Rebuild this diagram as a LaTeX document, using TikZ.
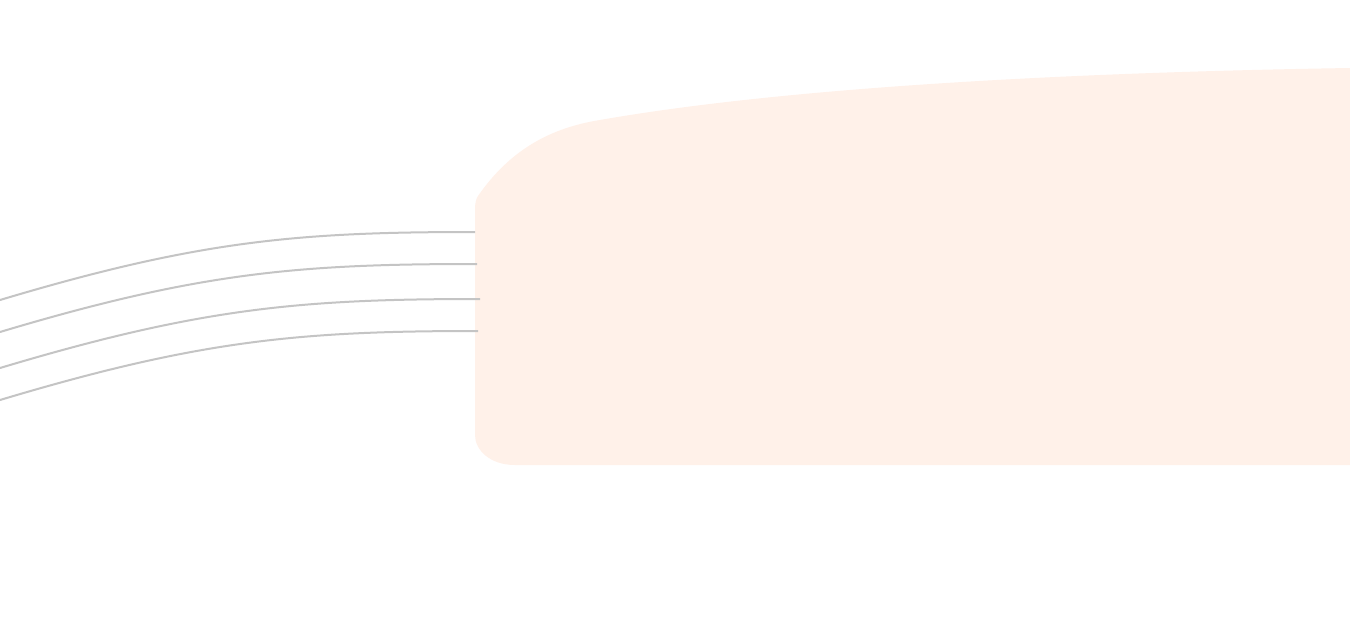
\documentclass[tikz,border=0pt]{standalone}
\begin{document}
\begin{tikzpicture}[x=1pt,y=-1pt,
  link/.style={draw=black!23,line width=2pt},
  blob/.style={fill=peach,draw=none}]
\definecolor{peach}{HTML}{FFF1E9}
\useasboundingbox (0,0) rectangle (1350,641);
\fill[white] (0,0) rectangle (1350,641);
\path[blob] (478,196) .. controls (510,150) and (550,128) .. (600,120)
  .. controls (800,85) and (1100,72) .. (1350,68)
  -- (1350,465) -- (515,465) .. controls (490,465) and (475,450) .. (475,435)
  -- (475,210) .. controls (475,203) and (476,199) .. (478,196) -- cycle;
\foreach \n/\ly/\rx/\ry in {a/300/475/232, b/332/477/264, c/368/480/299, d/400/478/331}{
  \coordinate (s\n) at (0,\ly);
  \coordinate (e\n) at (\rx,\ry);
  \draw[link] (s\n) .. controls (200,\ly-60) and (300,\ry) .. (e\n);
}
\end{tikzpicture}
\end{document}
